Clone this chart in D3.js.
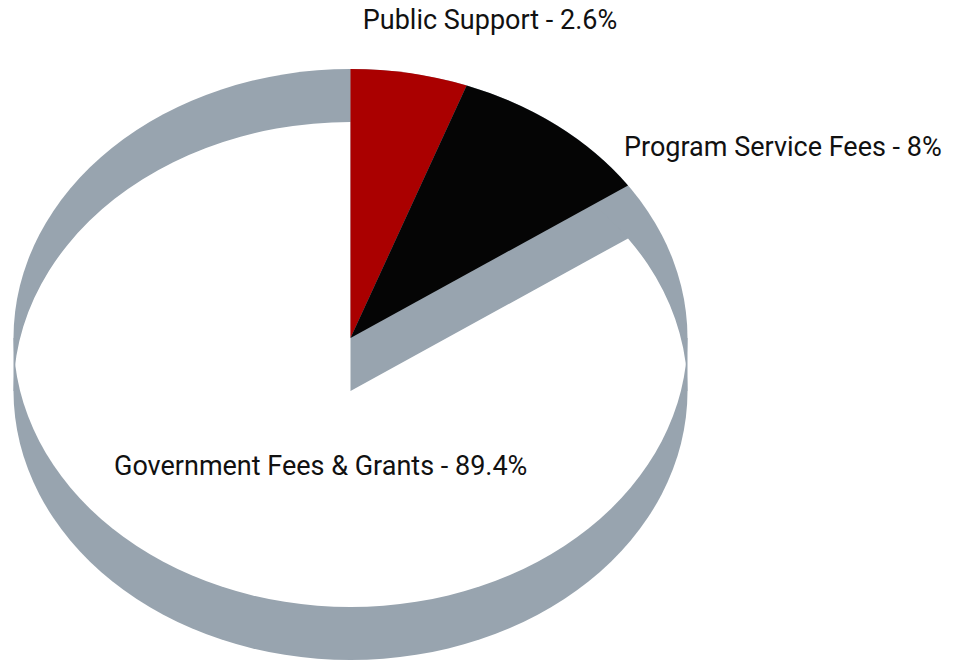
<!DOCTYPE html>
<html>
<head>
<meta charset="utf-8">
<script src="https://cdn.jsdelivr.net/npm/d3@7"></script>
<style>
  html, body { margin: 0; padding: 0; background: #ffffff; }
  svg { display: block; }
  text { font-family: Roboto, "Noto Sans", sans-serif; }
</style>
</head>
<body>
<svg id="chart" width="954" height="662"></svg>
<script>
// ---- data ----
const categories = ["Public Support", "Program Service Fees", "Government Fees & Grants"];
const labelPercents = ["2.6%", "8%", "89.4%"];
// share of the circle each slice occupies in the picture
const sliceShares = [5.6, 9.8, 84.6];
const sliceColors = ["#aa0000", "#050505", "#ffffff"];
const sideColor = "#98a4af";

// ---- geometry ----
const W = 954, H = 662;
const cx = 350.5, cy = 338, rx = 337, ry = 269, depth = 53;
const R = 100; // unit radius, scaled to ellipse

const svg = d3.select("#chart");
const pie = d3.pie().sort(null).value(d => d.share);
const data = categories.map((c, i) => ({ name: c, pct: labelPercents[i], share: sliceShares[i], color: sliceColors[i] }));
const arcs = pie(data);
const arcGen = d3.arc().innerRadius(0).outerRadius(R);

const defs = svg.append("defs");
defs.append("clipPath").attr("id", "topClip")
  .append("ellipse").attr("cx", cx).attr("cy", cy).attr("rx", rx).attr("ry", ry);

// side / depth (gray)
const side = svg.append("g").attr("fill", sideColor);
side.append("ellipse").attr("cx", cx).attr("cy", cy).attr("rx", rx).attr("ry", ry);
side.append("ellipse").attr("cx", cx).attr("cy", cy + depth).attr("rx", rx).attr("ry", ry);
side.append("rect").attr("x", cx - rx).attr("y", cy).attr("width", 2 * rx).attr("height", depth);

// large white slice: sits at the lower level, clipped to the top outline
const low = arcs.filter(a => a.data.color === "#ffffff");
svg.append("g").attr("clip-path", "url(#topClip)")
  .append("g").attr("transform", `translate(${cx},${cy + depth}) scale(${rx / R},${ry / R})`)
  .selectAll("path").data(low).join("path")
  .attr("d", arcGen).attr("fill", d => d.data.color);

// raised slices
const high = arcs.filter(a => a.data.color !== "#ffffff");
svg.append("g").attr("transform", `translate(${cx},${cy}) scale(${rx / R},${ry / R})`)
  .selectAll("path").data(high).join("path")
  .attr("d", arcGen).attr("fill", d => d.data.color);

// labels
const labelPos = [
  { x: 490, y: 29, anchor: "middle" },
  { x: 624, y: 156, anchor: "start" },
  { x: 114, y: 475, anchor: "start" }
];
svg.append("g").selectAll("text").data(data).join("text")
  .attr("x", (d, i) => labelPos[i].x)
  .attr("y", (d, i) => labelPos[i].y)
  .attr("text-anchor", (d, i) => labelPos[i].anchor)
  .attr("font-size", 27)
  .attr("fill", "#111111")
  .text(d => `${d.name} - ${d.pct}`);
</script>
</body>
</html>
